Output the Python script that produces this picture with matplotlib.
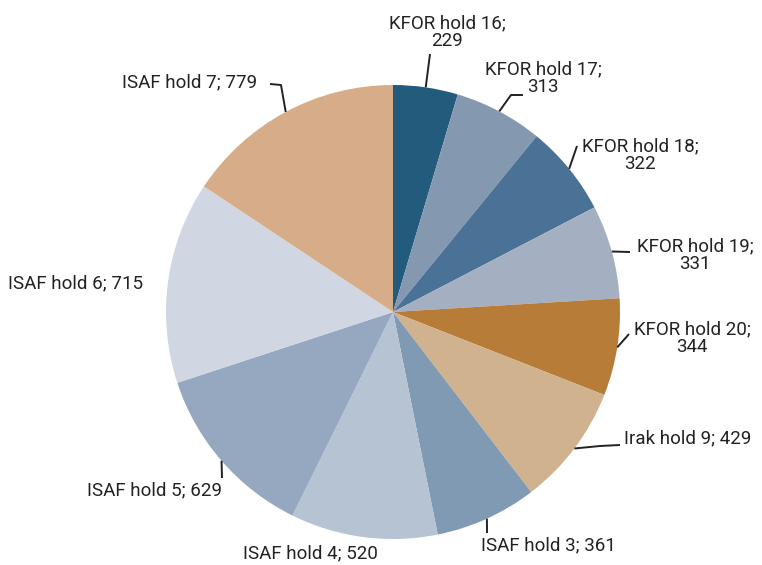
import numpy as np
import matplotlib
matplotlib.use("Agg")
from matplotlib import pyplot as plt

labels = ['KFOR hold 16', 'KFOR hold 17', 'KFOR hold 18', 'KFOR hold 19',
          'KFOR hold 20', 'Irak hold 9', 'ISAF hold 3', 'ISAF hold 4',
          'ISAF hold 5', 'ISAF hold 6', 'ISAF hold 7']
values = [229, 313, 322, 331, 344, 429, 361, 520, 629, 715, 779]
colors = ['#225b7b', '#8499b0', '#4a7296', '#a4afc1', '#b77c37', '#d0b28e',
          '#7f9ab2', '#b5c3d3', '#95a8c0', '#d0d7e3', '#d6ad88']
# label text: two lines for KFOR, one line otherwise
label_texts = ['KFOR hold 16;\n229', 'KFOR hold 17;\n313', 'KFOR hold 18;\n322',
               'KFOR hold 19;\n331', 'KFOR hold 20;\n344', 'Irak hold 9; 429',
               'ISAF hold 3; 361', 'ISAF hold 4; 520', 'ISAF hold 5; 629',
               'ISAF hold 6; 715', 'ISAF hold 7; 779']

W, H = 762, 565
cx, cy, R = 393, H - 312, 227

# where each label sits (pixels, y from top), its alignment, and leader elbow
label_pos = [(447, 32, 'center'), (543, 78, 'center'), (640, 155, 'center'),
             (695, 255, 'center'), (692, 338, 'center'), (624, 438, 'left'),
             (481, 545, 'left'), (310, 553, 'center'), (87, 490, 'left'),
             (8, 283, 'left'), (122, 82, 'left')]
leaders = [
    [(430, 54)],
    [(511, 95), (523, 95)],
    [(577, 146)],
    [(630, 252)],
    [(629, 334)],
    [(600, 446), (620, 445)],
    [(487, 533)],
    None,
    [(222, 478)],
    None,
    [(281, 85), (270, 84)],
]

fig = plt.figure(figsize=(W / 100, H / 100), dpi=100)
ax = fig.add_axes([0, 0, 1, 1])

wedges, _ = ax.pie(values, colors=colors, startangle=90, counterclock=False,
                   center=(cx, cy), radius=R, frame=True,
                   wedgeprops=dict(linewidth=0))
ax.set_xlim(0, W)
ax.set_ylim(0, H)
ax.set_aspect('auto')
ax.axis('off')

for w, txt, (tx, ty, ha), lead in zip(wedges, label_texts, label_pos, leaders):
    if lead is not None:
        mid = np.deg2rad((w.theta1 + w.theta2) / 2)
        px = [cx + R * np.cos(mid)]
        py = [cy + R * np.sin(mid)]
        for (lx, ly) in lead:
            px.append(lx)
            py.append(H - ly)
        ax.plot(px, py, color='#222222', lw=1.4, solid_capstyle='butt')
    ax.text(tx, H - ty, txt, ha=ha, va='center', fontsize=13.5,
            family='Roboto', color='#222222',
            linespacing=1.0, multialignment='center')

fig.savefig('out.png', dpi=100)
